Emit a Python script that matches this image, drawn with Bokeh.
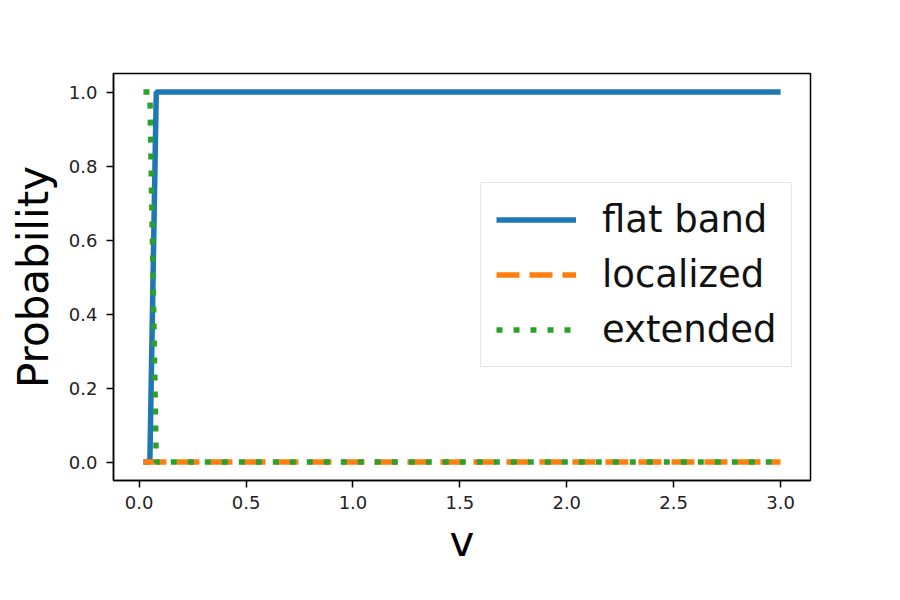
from bokeh.plotting import figure
from bokeh.models import Legend, LegendItem, FixedTicker, Range1d, PrintfTickFormatter
from bokeh.embed import file_html
from bokeh.resources import INLINE

# data
v = [0.02, 0.05, 0.08, 3.0]
flat_band = [0.0, 0.0, 1.0, 1.0]
localized = [0.0, 0.0, 0.0, 0.0]
extended = [1.0, 1.0, 0.0, 0.0]
x_ticks = [0.0, 0.5, 1.0, 1.5, 2.0, 2.5, 3.0]
y_ticks = [0.0, 0.2, 0.4, 0.6, 0.8, 1.0]

FONT = "DejaVu Sans"

p = figure(width=884, height=584, output_backend="svg", toolbar_location=None,
           x_range=Range1d(-0.12, 3.14), y_range=Range1d(-0.05, 1.05),
           min_border_left=113, min_border_right=74, min_border_top=73, min_border_bottom=104,
           frame_width=697, frame_height=407)

p.background_fill_color = "white"
p.border_fill_color = "white"
p.outline_line_color = "black"
p.outline_line_width = 1.5
p.xgrid.visible = False
p.ygrid.visible = False

r1 = p.line(v, flat_band, line_color="#1f77b4", line_width=5.5)
r2 = p.line(v, localized, line_color="#ff7f0e", line_width=5.5, line_dash="23 10")
r3 = p.line(v, extended, line_color="#2ca02c", line_width=5.5, line_dash="6 11")

for ax in (p.xaxis[0], p.yaxis[0]):
    ax.axis_line_color = "black"
    ax.axis_line_width = 1.5
    ax.major_tick_line_color = "black"
    ax.major_tick_line_width = 1.5
    ax.major_tick_out = 7
    ax.major_tick_in = 0
    ax.minor_tick_line_color = None
    ax.major_label_text_font = FONT
    ax.major_label_text_font_size = "18px"
    ax.major_label_text_color = "#222222"
    ax.axis_label_text_font = FONT
    ax.axis_label_text_font_size = "42px"
    ax.axis_label_text_font_style = "normal"
    ax.axis_label_text_color = "black"
    ax.formatter = PrintfTickFormatter(format="%.1f")

p.xaxis.ticker = FixedTicker(ticks=x_ticks)
p.yaxis.ticker = FixedTicker(ticks=y_ticks)
p.xaxis.major_label_standoff = 8
p.yaxis.major_label_standoff = 9
p.xaxis.axis_label = "v"
p.yaxis.axis_label = "Probability"
p.xaxis.axis_label_standoff = 5
p.yaxis.axis_label_standoff = 8

legend = Legend(items=[
    LegendItem(label="flat band", renderers=[r1]),
    LegendItem(label="localized", renderers=[r2]),
    LegendItem(label="extended", renderers=[r3]),
], location=(367, 113))
legend.label_text_font = FONT
legend.label_text_font_size = "37px"
legend.label_text_color = "#111111"
legend.glyph_width = 80
legend.glyph_height = 37
legend.label_height = 37
legend.label_standoff = 26
legend.spacing = 12
legend.padding = 15
legend.margin = 0
legend.border_line_color = "#d0d0d0"
legend.border_line_width = 1.5
legend.background_fill_color = "white"
legend.background_fill_alpha = 0.8
p.add_layout(legend)

open("out.html", "w").write(file_html(p, INLINE))
